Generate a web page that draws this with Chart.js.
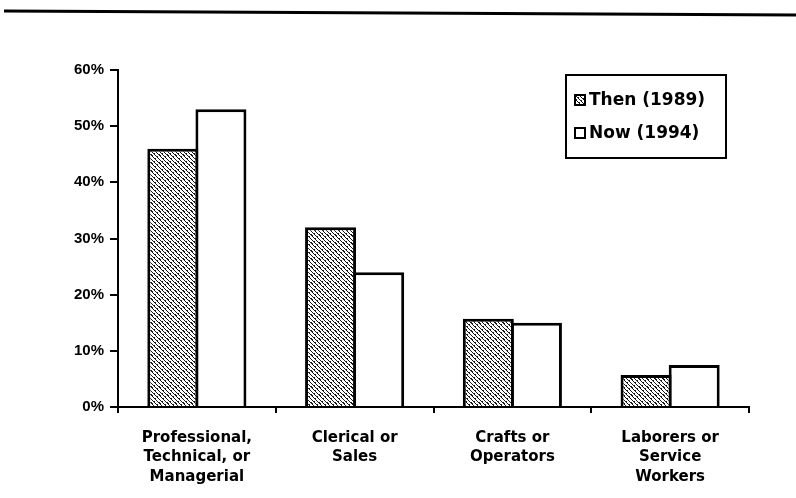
<!DOCTYPE html>
<html>
<head>
<meta charset="utf-8">
<script src="https://cdn.jsdelivr.net/npm/chart.js@4.4.1/dist/chart.umd.min.js"></script>
<style>
  html, body { margin: 0; padding: 0; background: #fff; }
  #wrap { position: relative; width: 796px; height: 498px; }
</style>
</head>
<body>
<div id="wrap"><canvas id="jobChart" width="796" height="498"></canvas></div>
<script>
// categories and values
const categories = [
    ['Professional,', 'Technical, or', 'Managerial'],
    ['Clerical or', 'Sales'],
    ['Crafts or', 'Operators'],
    ['Laborers or', 'Service', 'Workers']
];
const seriesNames = ['Then (1989)', 'Now (1994)'];
const thenValues = [46, 32, 15.7, 5.7];
const nowValues = [53, 24, 15, 7.5];
const yTicks = [0, 10, 20, 30, 40, 50, 60];

const Y_FONT = { family: '"Liberation Sans", Arial, sans-serif', size: 15, weight: 'bold' };
const X_FONT = { family: '"DejaVu Sans", sans-serif', size: 15, weight: 'bold', lineHeight: 1.3 };

/* ---------------------------
   HATCH PATTERN (scanned grey fill)
---------------------------*/
function makeHatch() {
    const c = document.createElement('canvas');
    c.width = 8; c.height = 8;
    const g = c.getContext('2d');
    g.fillStyle = '#ffffff';
    g.fillRect(0, 0, 8, 8);
    g.fillStyle = '#1a1a1a';
    for (let y = 0; y < 8; y++) {
        for (let x = 0; x < 8; x++) {
            const d = (x - y + 16) % 4;
            if (d === 0 || (d === 1 && (x + y) % 3 === 0)) g.fillRect(x, y, 1, 1);
        }
    }
    return g.createPattern(c, 'repeat');
}
const hatch = makeHatch();

/* ---------------------------
   DECORATION + LEGEND
---------------------------*/
const decorPlugin = {
    id: 'decor',
    afterDraw(chart) {
        const ctx = chart.ctx;
        const area = chart.chartArea;
        ctx.save();
        // thick rule across the top of the page
        ctx.strokeStyle = '#000';
        ctx.lineWidth = 3;
        ctx.beginPath();
        ctx.moveTo(4, 11);
        ctx.lineTo(796, 15);
        ctx.stroke();

        // x axis pokes a little left of the y axis
        ctx.lineWidth = 2;
        ctx.beginPath();
        ctx.moveTo(area.left - 6, area.bottom);
        ctx.lineTo(area.left, area.bottom);
        ctx.stroke();

        // legend box
        const bx = 566, by = 75, bw = 160, bh = 83;
        ctx.strokeRect(bx, by, bw, bh);
        ctx.font = 'bold 17px "DejaVu Sans", sans-serif';
        ctx.textBaseline = 'middle';
        chart.data.datasets.forEach((ds, i) => {
            const y = by + 25 + i * 33;
            const sx = bx + 9;
            ctx.fillStyle = ds.backgroundColor;
            ctx.fillRect(sx, y - 5, 10, 10);
            ctx.lineWidth = 2;
            ctx.strokeRect(sx, y - 5, 10, 10);
            ctx.fillStyle = '#000';
            ctx.fillText(ds.label, sx + 14, y + 1);
        });
        ctx.restore();
    }
};

/* ---------------------------
   CHART
---------------------------*/
new Chart(document.getElementById('jobChart'), {
    type: 'bar',
    data: {
        labels: categories,
        datasets: [
            {
                label: seriesNames[0],
                data: thenValues,
                backgroundColor: hatch,
                borderColor: '#000',
                borderWidth: 3,
                categoryPercentage: 0.61,
                barPercentage: 1.06
            },
            {
                label: seriesNames[1],
                data: nowValues,
                backgroundColor: '#ffffff',
                borderColor: '#000',
                borderWidth: 3,
                categoryPercentage: 0.61,
                barPercentage: 1.06
            }
        ]
    },
    options: {
        responsive: false,
        animation: false,
        layout: { padding: { top: 70, right: 47, left: 0, bottom: 0 } },
        plugins: {
            legend: { display: false },
            tooltip: { enabled: false }
        },
        scales: {
            x: {
                offset: true,
                grid: {
                    offset: true,
                    drawOnChartArea: false,
                    drawTicks: true,
                    tickLength: 6,
                    color: '#000',
                    lineWidth: 2
                },
                border: { display: true, color: '#000', width: 2 },
                ticks: {
                    color: '#000',
                    font: X_FONT,
                    padding: 15,
                    maxRotation: 0,
                    autoSkip: false
                },
                afterFit(scale) { scale.height = 91; }
            },
            y: {
                min: 0,
                max: 60,
                afterBuildTicks(scale) {
                    scale.ticks = yTicks.map(v => ({ value: v }));
                },
                grid: {
                    drawOnChartArea: false,
                    drawTicks: true,
                    tickLength: 8,
                    color: '#000',
                    lineWidth: 2
                },
                border: { display: true, color: '#000', width: 2 },
                ticks: {
                    color: '#000',
                    font: Y_FONT,
                    padding: 6,
                    callback: v => v + '%'
                },
                afterFit(scale) { scale.width = 118; }
            }
        }
    },
    plugins: [decorPlugin]
});
</script>
</body>
</html>
